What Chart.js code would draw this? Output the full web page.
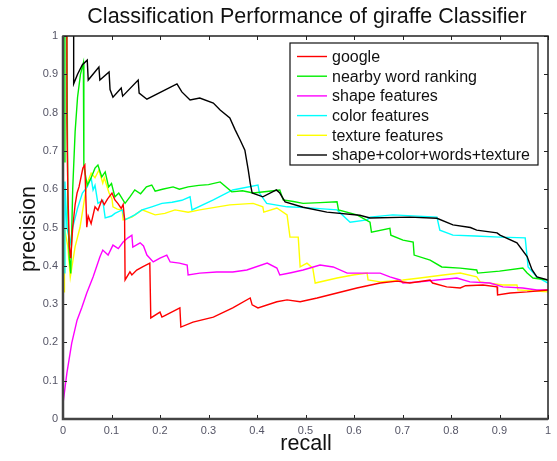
<!DOCTYPE html>
<html>
<head>
<meta charset="utf-8">
<script src="https://cdn.jsdelivr.net/npm/chart.js@4"></script>
<style>
html,body{margin:0;padding:0;background:#fff;}
#wrap{width:557px;height:461px;position:relative;}
</style>
</head>
<body>
<div id="wrap"><canvas id="c" width="557" height="461"></canvas></div>
<script>
const chartTitle = "Classification Performance of giraffe Classifier";
const xTitle = "recall";
const yTitle = "precision";
const tickValues = [0,0.1,0.2,0.3,0.4,0.5,0.6,0.7,0.8,0.9,1];
const tickLabels = ["0","0.1","0.2","0.3","0.4","0.5","0.6","0.7","0.8","0.9","1"];
const seriesNames = ["google","nearby word ranking","shape features","color features","texture features","shape+color+words+texture"];
const seriesColors = ["#ff0000","#00ee00","#ff00ff","#00ffff","#ffff00","#000000"];

const googleX = [0.008,0.008,0.01,0.013,0.016,0.02,0.025,0.029,0.033,0.041,0.045,0.049,0.052,0.058,0.066,0.072,0.08,0.085,0.092,0.101,0.107,0.113,0.12,0.124,0.127,0.128,0.138,0.142,0.152,0.165,0.179,0.181,0.2,0.204,0.21,0.221,0.241,0.243,0.268,0.31,0.35,0.386,0.39,0.402,0.441,0.462,0.489,0.524,0.565,0.606,0.654,0.689,0.715,0.757,0.762,0.791,0.819,0.83,0.866,0.895,0.896,0.922,0.957,1.0];
const googleY = [1.0,0.78,0.6,0.45,0.42,0.5,0.56,0.59,0.606,0.655,0.663,0.501,0.53,0.51,0.554,0.545,0.572,0.56,0.575,0.59,0.572,0.563,0.55,0.56,0.52,0.363,0.384,0.376,0.389,0.398,0.407,0.264,0.279,0.266,0.27,0.277,0.29,0.24,0.253,0.266,0.29,0.316,0.298,0.29,0.306,0.311,0.306,0.316,0.329,0.342,0.355,0.36,0.355,0.363,0.355,0.345,0.342,0.348,0.35,0.345,0.324,0.329,0.332,0.337];

const wordsX = [0.004,0.004,0.008,0.01,0.013,0.016,0.02,0.025,0.03,0.036,0.042,0.043,0.05,0.058,0.066,0.072,0.08,0.087,0.094,0.1,0.107,0.115,0.128,0.138,0.148,0.16,0.172,0.183,0.19,0.205,0.227,0.24,0.258,0.28,0.3,0.324,0.348,0.37,0.392,0.42,0.447,0.454,0.475,0.495,0.53,0.565,0.568,0.606,0.633,0.636,0.674,0.676,0.701,0.722,0.724,0.757,0.781,0.819,0.853,0.855,0.9,0.948,0.957,0.969,1.0];
const wordsY = [0.67,1.0,1.0,0.55,0.42,0.38,0.6,0.75,0.84,0.9,0.93,0.66,0.61,0.63,0.655,0.663,0.632,0.645,0.606,0.615,0.58,0.59,0.563,0.58,0.598,0.588,0.606,0.611,0.595,0.6,0.606,0.6,0.606,0.61,0.612,0.619,0.593,0.596,0.59,0.594,0.598,0.572,0.568,0.563,0.565,0.567,0.546,0.533,0.514,0.488,0.498,0.48,0.467,0.462,0.428,0.415,0.397,0.394,0.389,0.381,0.386,0.394,0.381,0.368,0.363];

const shapeX = [0.0,0.008,0.018,0.029,0.039,0.049,0.062,0.076,0.082,0.093,0.103,0.114,0.124,0.134,0.142,0.144,0.159,0.166,0.173,0.186,0.2,0.214,0.221,0.24,0.256,0.258,0.282,0.317,0.35,0.379,0.421,0.441,0.447,0.47,0.495,0.53,0.557,0.586,0.627,0.654,0.674,0.695,0.701,0.736,0.771,0.812,0.839,0.88,0.907,0.948,0.977,1.0];
const shapeY = [0.04,0.12,0.198,0.258,0.292,0.329,0.371,0.423,0.441,0.428,0.454,0.445,0.462,0.473,0.48,0.449,0.46,0.452,0.428,0.41,0.42,0.428,0.41,0.407,0.402,0.376,0.381,0.384,0.384,0.389,0.407,0.394,0.376,0.382,0.389,0.402,0.397,0.381,0.381,0.381,0.371,0.363,0.355,0.358,0.363,0.368,0.358,0.355,0.345,0.342,0.337,0.337];

const colorX = [0.004,0.004,0.008,0.015,0.02,0.03,0.04,0.05,0.058,0.062,0.066,0.072,0.082,0.087,0.1,0.107,0.122,0.128,0.148,0.163,0.183,0.204,0.225,0.245,0.262,0.266,0.31,0.35,0.402,0.405,0.42,0.462,0.5,0.565,0.592,0.627,0.633,0.68,0.771,0.777,0.804,0.85,0.901,0.953,0.959,0.977,1.0];
const colorY = [0.38,0.62,0.5,0.46,0.5,0.55,0.59,0.606,0.63,0.598,0.61,0.563,0.571,0.525,0.53,0.537,0.546,0.52,0.533,0.546,0.554,0.563,0.566,0.571,0.58,0.546,0.572,0.598,0.611,0.59,0.563,0.554,0.552,0.546,0.514,0.52,0.527,0.533,0.527,0.493,0.48,0.478,0.475,0.473,0.397,0.371,0.355];

const textureX = [0.003,0.003,0.01,0.015,0.025,0.035,0.045,0.05,0.058,0.066,0.074,0.082,0.085,0.095,0.101,0.103,0.112,0.122,0.124,0.142,0.163,0.19,0.21,0.231,0.258,0.282,0.344,0.392,0.412,0.414,0.441,0.462,0.468,0.485,0.489,0.503,0.515,0.52,0.565,0.598,0.627,0.629,0.654,0.701,0.736,0.784,0.819,0.853,0.86,0.907,0.936,0.938,1.0];
const textureY = [0.33,0.5,0.45,0.37,0.45,0.5,0.58,0.616,0.642,0.63,0.65,0.616,0.63,0.59,0.575,0.554,0.548,0.546,0.52,0.527,0.546,0.533,0.537,0.546,0.54,0.546,0.559,0.563,0.554,0.54,0.551,0.533,0.475,0.475,0.397,0.407,0.394,0.355,0.368,0.376,0.381,0.363,0.358,0.363,0.368,0.376,0.381,0.371,0.358,0.35,0.35,0.337,0.332];

const comboX = [0.022,0.022,0.03,0.04,0.05,0.052,0.074,0.076,0.095,0.097,0.103,0.12,0.123,0.155,0.157,0.173,0.235,0.245,0.262,0.282,0.31,0.324,0.344,0.355,0.365,0.375,0.382,0.386,0.39,0.412,0.44,0.447,0.458,0.495,0.544,0.612,0.633,0.715,0.771,0.804,0.84,0.853,0.895,0.901,0.936,0.957,0.967,0.977,1.0];
const comboY = [1.0,0.875,0.9,0.925,0.937,0.885,0.919,0.885,0.906,0.86,0.84,0.864,0.843,0.885,0.851,0.835,0.875,0.854,0.833,0.838,0.825,0.807,0.786,0.755,0.729,0.702,0.65,0.616,0.59,0.58,0.598,0.59,0.567,0.553,0.54,0.532,0.525,0.527,0.524,0.507,0.5,0.493,0.486,0.48,0.46,0.424,0.39,0.371,0.363];

const allX = [googleX, wordsX, shapeX, colorX, textureX, comboX];
const allY = [googleY, wordsY, shapeY, colorY, textureY, comboY];

const FONT = "'Liberation Sans', Arial, Helvetica, sans-serif";

const datasets = seriesNames.map((name, i) => ({
  label: name,
  data: allX[i].map((x, j) => ({x: x, y: allY[i][j]})),
  borderColor: seriesColors[i],
  backgroundColor: seriesColors[i],
  borderWidth: 1.4,
  pointRadius: 0,
  showLine: true,
  tension: 0,
  fill: false
}));
const order = [4,3,2,1,0,5];
datasets.forEach((d,i)=>{ d.order = 6 - order.indexOf(i); });

const framePlugin = {
  id: 'frame',
  afterDatasetsDraw(chart) {
    const {ctx, chartArea: a, scales: {x, y}} = chart;
    ctx.save();
    ctx.strokeStyle = '#222';
    ctx.lineWidth = 1;
    const tl = 4;
    tickValues.forEach(v => {
      const px = Math.round(x.getPixelForValue(v)) + 0.5;
      ctx.beginPath();
      ctx.moveTo(px, a.bottom); ctx.lineTo(px, a.bottom - tl);
      ctx.moveTo(px, a.top); ctx.lineTo(px, a.top + tl);
      ctx.stroke();
      const py = Math.round(y.getPixelForValue(v)) + 0.5;
      ctx.beginPath();
      ctx.moveTo(a.left, py); ctx.lineTo(a.left + tl, py);
      ctx.moveTo(a.right, py); ctx.lineTo(a.right - tl, py);
      ctx.stroke();
    });
    ctx.strokeStyle = '#222';
    ctx.lineWidth = 1.5;
    ctx.strokeRect(a.left, a.top, a.right - a.left, a.bottom - a.top);
    ctx.strokeStyle = '#444';
    ctx.lineWidth = 2.5;
    ctx.beginPath();
    ctx.moveTo(a.left, a.top); ctx.lineTo(a.left, a.bottom); ctx.lineTo(a.right, a.bottom);
    ctx.stroke();

    const lx = 290, ly = 43, lw = 248, lh = 122;
    ctx.fillStyle = '#fff';
    ctx.fillRect(lx, ly, lw, lh);
    ctx.strokeStyle = '#111';
    ctx.lineWidth = 1.2;
    ctx.strokeRect(lx, ly, lw, lh);
    ctx.font = "16px " + FONT;
    ctx.textBaseline = 'middle';
    ctx.textAlign = 'left';
    chart.data.datasets.forEach((d, i) => {
      const yy = 56.5 + i * 19.7;
      ctx.strokeStyle = d.borderColor;
      ctx.lineWidth = 1.4;
      ctx.beginPath();
      ctx.moveTo(297, yy); ctx.lineTo(327, yy);
      ctx.stroke();
      ctx.fillStyle = '#111';
      ctx.fillText(d.label, 332, yy + 1);
    });

    ctx.fillStyle = '#111';
    ctx.textAlign = 'center';
    ctx.font = "21.5px " + FONT;
    ctx.fillText(chartTitle, 307, 17);
    ctx.font = "21.5px " + FONT;
    ctx.fillText(xTitle, 306, 444);
    ctx.translate(29, 229);
    ctx.rotate(-Math.PI / 2);
    ctx.fillText(yTitle, 0, 0);
    ctx.restore();
  }
};

new Chart(document.getElementById('c'), {
  type: 'scatter',
  data: { datasets: datasets },
  options: {
    responsive: false,
    animation: false,
    devicePixelRatio: 1,
    layout: { padding: { top: 36, right: 9, left: 0, bottom: 0 } },
    plugins: { legend: { display: false }, title: { display: false }, tooltip: { enabled: false } },
    scales: {
      x: {
        type: 'linear', min: 0, max: 1,
        afterFit(s) { s.height = 42; },
        afterBuildTicks(s) { s.ticks = tickValues.map(v => ({value: v})); },
        grid: { display: false, drawTicks: false },
        border: { display: false },
        ticks: { padding: 5, color: '#555566', font: { size: 11, family: FONT },
                 maxRotation: 0, autoSkip: false,
                 callback: (v) => tickLabels[tickValues.indexOf(Math.round(v*10)/10)] }
      },
      y: {
        type: 'linear', min: 0, max: 1,
        afterFit(s) { s.width = 63; },
        afterBuildTicks(s) { s.ticks = tickValues.map(v => ({value: v})); },
        grid: { display: false, drawTicks: false },
        border: { display: false },
        ticks: { padding: 5, color: '#555566', font: { size: 11, family: FONT }, autoSkip: false,
                 callback: (v) => tickLabels[tickValues.indexOf(Math.round(v*10)/10)] }
      }
    }
  },
  plugins: [framePlugin]
});
</script>
</body>
</html>
